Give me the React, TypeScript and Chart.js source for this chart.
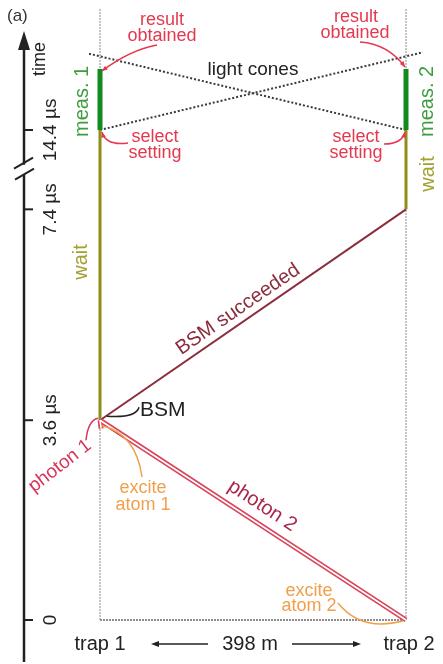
import React, { useEffect, useRef } from "react";
import { Chart, registerables } from "chart.js";

Chart.register(...registerables);

// ---- data (distance in m, time in µs) ----
const trapNames = ["trap 1", "trap 2"];
const trapPositions = [0, 398];
const distanceLabel = "398 m";
const tickTimes = [0, 3.6, 7.4, 14.4];
const tickLabels = ["0", "3.6 µs", "7.4 µs", "14.4 µs"];
const breakFrom = 7.4; // axis break (time between 7.4 and 14.4 is cut)
const breakGap = 5.57;
const photon2X = [398, 0];
const photon2T = [0, 3.6];
const photon1X = [1.5, 0];
const photon1T = [3.45, 3.6];
const bsmSignalX = [0, 398];
const bsmSignalT = [3.6, 7.4];
const wait1T = [3.6, 14.4];
const wait2T = [7.4, 14.4];
const meas1T = [14.4, 15.5];
const meas2T = [14.4, 15.5];
const coneLeftX = [0, 420];
const coneLeftT = [14.4, 15.8];
const coneRightX = [398, -16];
const coneRightT = [14.4, 15.78];
const refLineT = [0, 16.6];
const excite1T = 3.5;
const excite2T = 0;

const toAxis = (t: number) => (t <= breakFrom ? t : t - breakGap);

const FONT = '"Liberation Sans", Arial, sans-serif';
const RED = "#e5384f";
const GREEN_LINE = "#118a1e";
const GREEN_TEXT = "#3f9d3f";
const OLIVE_LINE = "#8e8e16";
const OLIVE_TEXT = "#a2a232";
const MAROON = "#8b2d3c";
const PHOTON = "#d9445a";
const ORANGE = "#f0a04c";

function seg(xs: number[], ts: number[], color: string, width: number, order: number, dash: number[] = []) {
  return {
    data: xs.map((x, i) => ({ x, y: toAxis(ts[i]) })),
    showLine: true,
    borderColor: color,
    backgroundColor: color,
    borderWidth: width,
    borderDash: dash,
    borderCapStyle: "butt",
    pointRadius: 0,
    clip: false,
    order,
  } as any;
}

const overlay = {
  id: "overlay",
  afterDatasetsDraw(chart: any) {
    const ctx: CanvasRenderingContext2D = chart.ctx;
    const xs = chart.scales.x;
    const ys = chart.scales.y;
    const px = (m: number) => xs.getPixelForValue(m);
    const py = (t: number) => ys.getPixelForValue(toAxis(t));

    const text = (s: string, x: number, y: number, size: number, color: string, rot = 0, align: CanvasTextAlign = "center") => {
      ctx.save();
      ctx.translate(x, y);
      ctx.rotate(rot);
      ctx.font = `${size}px ${FONT}`;
      ctx.fillStyle = color;
      ctx.textAlign = align;
      ctx.textBaseline = "middle";
      ctx.fillText(s, 0, 0);
      ctx.restore();
    };
    const curve = (x0: number, y0: number, cx: number, cy: number, x1: number, y1: number, color: string, w = 1.5) => {
      ctx.save();
      ctx.strokeStyle = color;
      ctx.lineWidth = w;
      ctx.beginPath();
      ctx.moveTo(x0, y0);
      ctx.quadraticCurveTo(cx, cy, x1, y1);
      ctx.stroke();
      // small arrow head
      const a = Math.atan2(y1 - cy, x1 - cx);
      ctx.fillStyle = color;
      ctx.beginPath();
      ctx.moveTo(x1, y1);
      ctx.lineTo(x1 - 6 * Math.cos(a - 0.4), y1 - 6 * Math.sin(a - 0.4));
      ctx.lineTo(x1 - 6 * Math.cos(a + 0.4), y1 - 6 * Math.sin(a + 0.4));
      ctx.closePath();
      ctx.fill();
      ctx.restore();
    };

    const x1 = px(trapPositions[0]);
    const x2 = px(trapPositions[1]);

    // ---- time axis ----
    const ax = 24;
    const yBreak = (py(tickTimes[2]) + py(tickTimes[3])) / 2;
    ctx.save();
    ctx.strokeStyle = "#222";
    ctx.lineWidth = 2.5;
    ctx.beginPath();
    ctx.moveTo(ax, 662);
    ctx.lineTo(ax, yBreak + 5);
    ctx.moveTo(ax, yBreak - 5);
    ctx.lineTo(ax, 46);
    ctx.stroke();
    ctx.fillStyle = "#222";
    ctx.beginPath();
    ctx.moveTo(ax, 31);
    ctx.lineTo(ax - 6, 50);
    ctx.lineTo(ax + 6, 50);
    ctx.closePath();
    ctx.fill();
    // break marks
    ctx.lineWidth = 2;
    ctx.beginPath();
    ctx.moveTo(14, yBreak - 1);
    ctx.lineTo(33, yBreak - 12);
    ctx.moveTo(15, yBreak + 10);
    ctx.lineTo(34, yBreak - 1);
    ctx.stroke();
    // ticks
    ctx.lineWidth = 2;
    tickTimes.forEach((t) => {
      ctx.beginPath();
      ctx.moveTo(ax, py(t));
      ctx.lineTo(ax + 9, py(t));
      ctx.stroke();
    });
    ctx.restore();
    tickTimes.forEach((t, i) => text(tickLabels[i], 51, py(t), 19, "#222", -Math.PI / 2));
    text("time", 40, 59, 18, "#222", -Math.PI / 2);
    text("(a)", 7, 16, 17, "#333", 0, "left");

    // ---- bottom labels ----
    const yb = 644;
    text(trapNames[0], x1, yb, 20, "#222");
    text(trapNames[1], x2 + 3, yb, 20, "#222");
    text(distanceLabel, (x1 + x2) / 2 - 3, yb, 20, "#222");
    ctx.save();
    ctx.strokeStyle = "#222";
    ctx.fillStyle = "#222";
    ctx.lineWidth = 1.3;
    ctx.beginPath();
    ctx.moveTo(156, yb);
    ctx.lineTo(208, yb);
    ctx.moveTo(292, yb);
    ctx.lineTo(356, yb);
    ctx.stroke();
    ctx.beginPath();
    ctx.moveTo(151, yb);
    ctx.lineTo(159, yb - 3);
    ctx.lineTo(159, yb + 3);
    ctx.closePath();
    ctx.fill();
    ctx.beginPath();
    ctx.moveTo(361, yb);
    ctx.lineTo(353, yb - 3);
    ctx.lineTo(353, yb + 3);
    ctx.closePath();
    ctx.fill();
    ctx.restore();

    // ---- vertical phase labels ----
    const m1 = (py(meas1T[0]) + py(meas1T[1])) / 2;
    text("meas. 1", x1 - 18, m1 + 2, 20, GREEN_TEXT, -Math.PI / 2);
    text("meas. 2", x2 + 21, m1 + 2, 20, GREEN_TEXT, -Math.PI / 2);
    text("wait", x1 - 19, 262, 20, OLIVE_TEXT, -Math.PI / 2);
    text("wait", x2 + 22, 174, 20, OLIVE_TEXT, -Math.PI / 2);

    // ---- red annotations ----
    const yTop = py(meas1T[1]);
    const ySel = py(meas1T[0]);
    text("result", x1 + 62, 20, 18, RED);
    text("obtained", x1 + 62, 36, 18, RED);
    text("select", x1 + 55, 137, 18, RED);
    text("setting", x1 + 55, 153, 18, RED);
    text("result", x2 - 50, 17, 18, RED);
    text("obtained", x2 - 51, 33, 18, RED);
    text("select", x2 - 50, 137, 18, RED);
    text("setting", x2 - 50, 153, 18, RED);
    curve(x1 + 57, 45, x1 + 30, 50, x1 + 2, yTop + 2, RED);
    curve(x1 + 28, 143, x1 + 6, 146, x1 + 2, ySel + 2, RED);
    curve(x2 - 46, 42, x2 - 18, 44, x2 - 1, yTop - 2, RED);
    curve(x2 - 22, 144, x2 - 4, 144, x2 - 1, ySel + 2, RED);

    text("light cones", 253, 70, 19, "#222");

    // ---- BSM ----
    const bsmY = py(bsmSignalT[0]);
    text("BSM", x1 + 40, bsmY - 10, 21, "#222", 0, "left");
    ctx.save();
    ctx.strokeStyle = "#222";
    ctx.lineWidth = 1.5;
    ctx.beginPath();
    ctx.moveTo(x1 + 7, bsmY - 4);
    ctx.quadraticCurveTo(x1 + 36, bsmY - 2, x1 + 39, bsmY - 13);
    ctx.stroke();
    ctx.restore();

    // BSM succeeded label along line
    const bx0 = px(bsmSignalX[0]), by0 = py(bsmSignalT[0]);
    const bx1 = px(bsmSignalX[1]), by1 = py(bsmSignalT[1]);
    const ba = Math.atan2(by1 - by0, bx1 - bx0);
    ctx.save();
    ctx.translate(bx0 + (bx1 - bx0) * 0.475, by0 + (by1 - by0) * 0.475);
    ctx.rotate(ba);
    ctx.font = `20px ${FONT}`;
    ctx.fillStyle = MAROON;
    ctx.textAlign = "center";
    ctx.textBaseline = "middle";
    ctx.fillText("BSM succeeded", 0, -13);
    ctx.restore();

    // photon 2 label along line
    const p0x = px(photon2X[1]), p0y = py(photon2T[1]);
    const p1x = px(photon2X[0]), p1y = py(photon2T[0]);
    const pa = Math.atan2(p1y - p0y, p1x - p0x);
    ctx.save();
    ctx.translate(p0x + (p1x - p0x) * 0.5, p0y + (p1y - p0y) * 0.5);
    ctx.rotate(pa);
    ctx.font = `20px ${FONT}`;
    ctx.fillStyle = "#a8264a";
    ctx.textAlign = "center";
    ctx.textBaseline = "middle";
    ctx.fillText("photon 2", 0, -17);
    ctx.restore();

    // photon 1 label
    text("photon 1", 60, 466, 19, "#d8355a", -0.66);
    ctx.save();
    ctx.strokeStyle = "#d8355a";
    ctx.lineWidth = 1.5;
    ctx.beginPath();
    ctx.moveTo(x1 - 14, bsmY + 20);
    ctx.quadraticCurveTo(x1 - 12, bsmY, x1 - 2, bsmY - 2);
    ctx.stroke();
    ctx.restore();

    // excite labels
    const e1y = py(excite1T);
    text("excite", x1 + 43, 488, 18, ORANGE);
    text("atom 1", x1 + 43, 505, 18, ORANGE);
    ctx.save();
    ctx.strokeStyle = ORANGE;
    ctx.lineWidth = 1.5;
    ctx.beginPath();
    ctx.moveTo(x1 + 42, 477);
    ctx.quadraticCurveTo(x1 + 36, e1y + 8, x1 + 2, e1y);
    ctx.stroke();
    const e2y = py(excite2T);
    text("excite", x2 - 97, 591, 18, ORANGE);
    text("atom 2", x2 - 97, 606, 18, ORANGE);
    ctx.beginPath();
    ctx.moveTo(x2 - 68, 603);
    ctx.quadraticCurveTo(x2 - 45, e2y + 12, x2 - 3, e2y + 1);
    ctx.stroke();
    ctx.restore();
  },
};

export default function App() {
  const ref = useRef<HTMLCanvasElement | null>(null);
  useEffect(() => {
    if (!ref.current) return;
    const datasets = [
      seg([trapPositions[0], trapPositions[0]], refLineT, "#8a8a8a", 1, 20, [2, 1]),
      seg([trapPositions[1], trapPositions[1]], refLineT, "#8a8a8a", 1, 20, [2, 1]),
      seg(trapPositions, [0, 0], "#6a6a6a", 1.3, 20, [2, 1]),
      seg(coneLeftX, coneLeftT, "#3a3a3a", 2, 15, [2, 2]),
      seg(coneRightX, coneRightT, "#3a3a3a", 2, 15, [2, 2]),
      seg([trapPositions[0], trapPositions[0]], wait1T, OLIVE_LINE, 3, 8),
      seg([trapPositions[1], trapPositions[1]], wait2T, OLIVE_LINE, 3, 8),
      seg([trapPositions[0], trapPositions[0]], meas1T, GREEN_LINE, 5, 7),
      seg([trapPositions[1], trapPositions[1]], meas2T, GREEN_LINE, 5, 7),
      seg(bsmSignalX, bsmSignalT, MAROON, 2, 6),
      seg(photon2X, photon2T, PHOTON, 5, 4),
      seg(photon2X, photon2T, "#ffffff", 1.6, 3),
      seg(photon1X, photon1T, PHOTON, 5, 4),
      seg(photon1X, photon1T, "#ffffff", 1.6, 3),
    ];
    const chart = new Chart(ref.current, {
      type: "scatter",
      data: { datasets },
      options: {
        animation: false,
        responsive: false,
        events: [],
        layout: { padding: { left: 100, right: 37, top: 4, bottom: 44 } },
        scales: {
          x: { type: "linear", min: 0, max: 398, display: false },
          y: { type: "linear", min: 0, max: 11.1, display: false },
        },
        plugins: { legend: { display: false }, tooltip: { enabled: false } },
      },
      plugins: [overlay],
    } as any);
    return () => chart.destroy();
  }, []);
  return (
    <div style={{ position: "absolute", left: 0, top: 0, width: 443, height: 664, background: "#fff" }}>
      <canvas ref={ref} width={443} height={664} style={{ display: "block", width: 443, height: 664 }} />
    </div>
  );
}
